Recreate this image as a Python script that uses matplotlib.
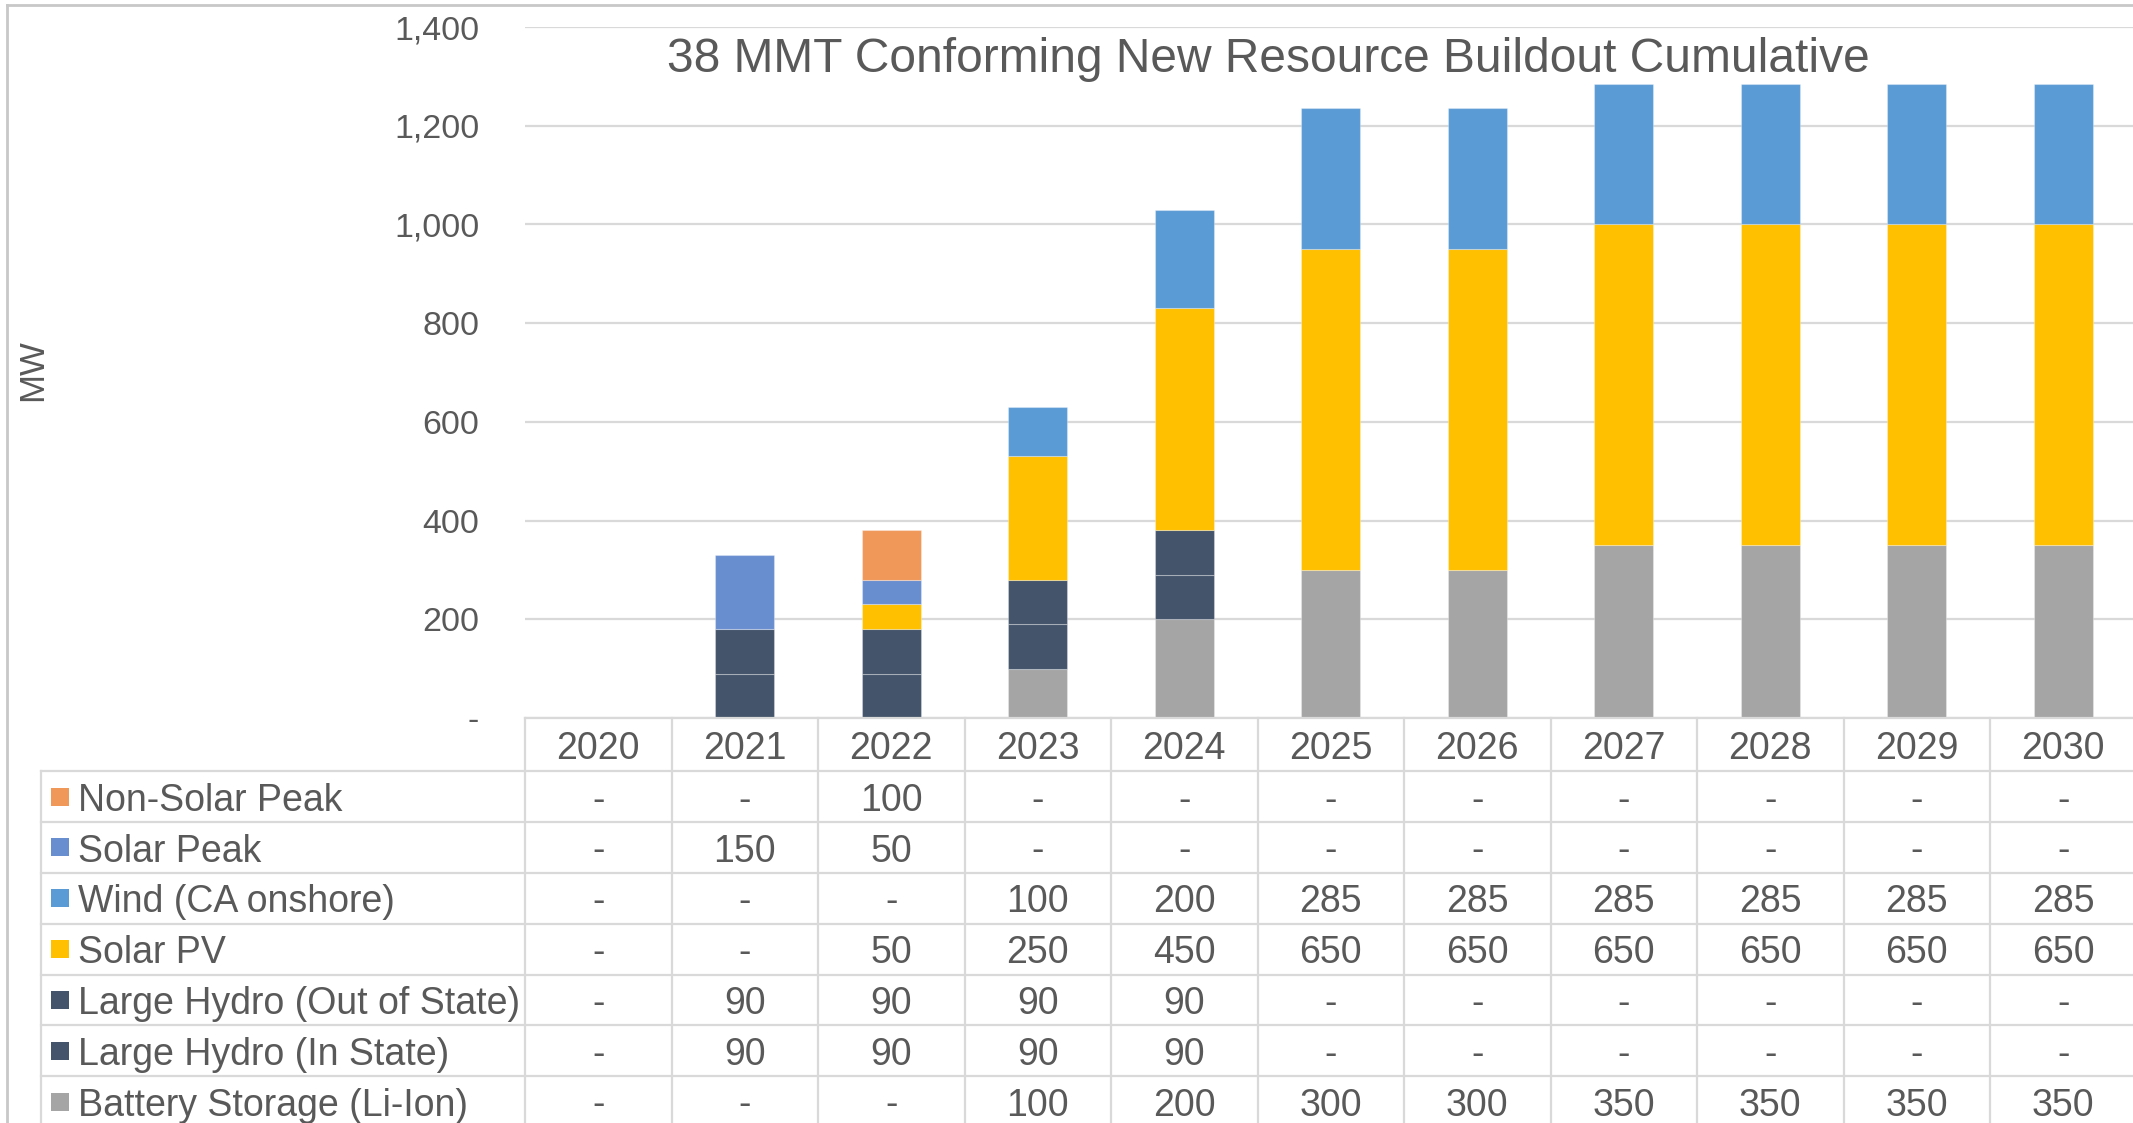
import numpy as np
import matplotlib
matplotlib.use("Agg")
import matplotlib.pyplot as plt
from matplotlib.transforms import blended_transform_factory
from matplotlib.lines import Line2D
from matplotlib.patches import Rectangle
from matplotlib.ticker import FuncFormatter, MultipleLocator

plt.rcParams['font.family'] = ['Liberation Sans', 'DejaVu Sans']

# ---------------- data ----------------
years = ['2020', '2021', '2022', '2023', '2024', '2025', '2026', '2027', '2028', '2029', '2030']
non_solar_peak = [0, 0, 100, 0, 0, 0, 0, 0, 0, 0, 0]
solar_peak = [0, 150, 50, 0, 0, 0, 0, 0, 0, 0, 0]
wind = [0, 0, 0, 100, 200, 285, 285, 285, 285, 285, 285]
solar_pv = [0, 0, 50, 250, 450, 650, 650, 650, 650, 650, 650]
hydro_out = [0, 90, 90, 90, 90, 0, 0, 0, 0, 0, 0]
hydro_in = [0, 90, 90, 90, 90, 0, 0, 0, 0, 0, 0]
battery = [0, 0, 0, 100, 200, 300, 300, 350, 350, 350, 350]

series_names = ['Non-Solar Peak', 'Solar Peak', 'Wind (CA onshore)', 'Solar PV',
                'Large Hydro (Out of State)', 'Large Hydro (In State)', 'Battery Storage (Li-Ion)']
series_values = [non_solar_peak, solar_peak, wind, solar_pv, hydro_out, hydro_in, battery]
series_colors = ['#F0985A', '#698ED0', '#5B9BD5', '#FFC000', '#44546A', '#44546A', '#A5A5A5']

title = '38 MMT Conforming New Resource Buildout Cumulative'
ylabel = 'MW'

# ---------------- layout (pixels) ----------------
W, H = 2133, 1123
TXT = '#595959'
GRID = '#D9D9D9'

def fx(x):
    return x / W

def fy(y):
    return 1 - y / H

plot_left, plot_right = 525, 2136.5
plot_top, plot_bottom = 27, 718

fig = plt.figure(figsize=(W / 100, H / 100), dpi=100)
ax = fig.add_axes([fx(plot_left), fy(plot_bottom),
                   (plot_right - plot_left) / W, (plot_bottom - plot_top) / H])

x = np.arange(len(years))
bottom = np.zeros(len(years))
# stack from bottom (battery) to top (non-solar peak)
for name, vals, col in list(zip(series_names, series_values, series_colors))[::-1]:
    vals = np.array(vals, dtype=float)
    m = vals > 0
    ax.bar(x[m], vals[m], bottom=bottom[m], width=0.4, color=col,
           edgecolor=(1, 1, 1, 0.3), linewidth=0.8, zorder=3)
    bottom += vals

ax.set_xlim(-0.5, len(years) - 0.5)
ax.set_ylim(0, 1400)
ax.yaxis.set_major_locator(MultipleLocator(200))
ax.yaxis.set_major_formatter(FuncFormatter(lambda v, p: '-' if v == 0 else f'{v:,.0f}'))
ax.tick_params(axis='y', length=0, pad=33, labelsize=24.5, labelcolor=TXT)
ax.tick_params(axis='x', length=0, labelbottom=False)
ax.set_xticks([])
for s in ax.spines.values():
    s.set_visible(False)
ax.yaxis.grid(True, color=GRID, linewidth=1.6, zorder=0)
ax.set_axisbelow(True)
ax.patch.set_alpha(0)

fig.text(fx(1268), fy(59), title, ha='center', va='center', fontsize=34.5, color=TXT)
fig.text(fx(33), fy(370), ylabel, ha='center', va='center', rotation=90, fontsize=25, color=TXT)

# ---------------- data table ----------------
trans = blended_transform_factory(ax.transData, fig.transFigure)
header_top, header_bot = 718, 771.3
row_h = 50.8
n_rows = len(series_names)
row_tops = [header_bot + k * row_h for k in range(n_rows + 1)]
table_left = 41
fs_tab = 27
dy = 4  # visual offset of text centre

# horizontal lines
fig.add_artist(Line2D([fx(plot_left), fx(W + 10)], [fy(header_top)] * 2,
                      color=GRID, linewidth=1.6, transform=fig.transFigure))
for yt in row_tops:
    fig.add_artist(Line2D([fx(table_left), fx(W + 10)], [fy(yt)] * 2,
                          color=GRID, linewidth=1.6, transform=fig.transFigure))
# vertical lines
fig.add_artist(Line2D([fx(table_left)] * 2, [fy(header_bot), fy(H + 10)],
                      color=GRID, linewidth=1.6, transform=fig.transFigure))
for i in range(len(years) + 1):
    fig.add_artist(Line2D([i - 0.5] * 2, [fy(header_top), fy(H + 10)],
                          color=GRID, linewidth=1.6, transform=trans))

# header
for i, yr in enumerate(years):
    fig.text(i, fy((header_top + header_bot) / 2 + dy), yr, transform=trans,
             ha='center', va='center', fontsize=fs_tab, color=TXT)

# rows
for r, (name, vals, col) in enumerate(zip(series_names, series_values, series_colors)):
    yc = row_tops[r] + row_h / 2
    fig.add_artist(Rectangle((fx(51), fy(yc + 9)), 18 / W, 18 / H, facecolor=col,
                             edgecolor='none', transform=fig.transFigure))
    fig.text(fx(78), fy(yc + dy), name, ha='left', va='center', fontsize=fs_tab, color=TXT)
    for i, v in enumerate(vals):
        fig.text(i, fy(yc + dy), '-' if v == 0 else f'{v:,.0f}', transform=trans,
                 ha='center', va='center', fontsize=fs_tab, color=TXT)

# outer chart border
BORDER = '#C8C8C8'
fig.add_artist(Line2D([fx(7), fx(W + 10)], [fy(5)] * 2, color=BORDER, linewidth=2,
                      transform=fig.transFigure))
fig.add_artist(Line2D([fx(7)] * 2, [fy(5), fy(H + 10)], color=BORDER, linewidth=2,
                      transform=fig.transFigure))

fig.savefig('out.png', dpi=100)
